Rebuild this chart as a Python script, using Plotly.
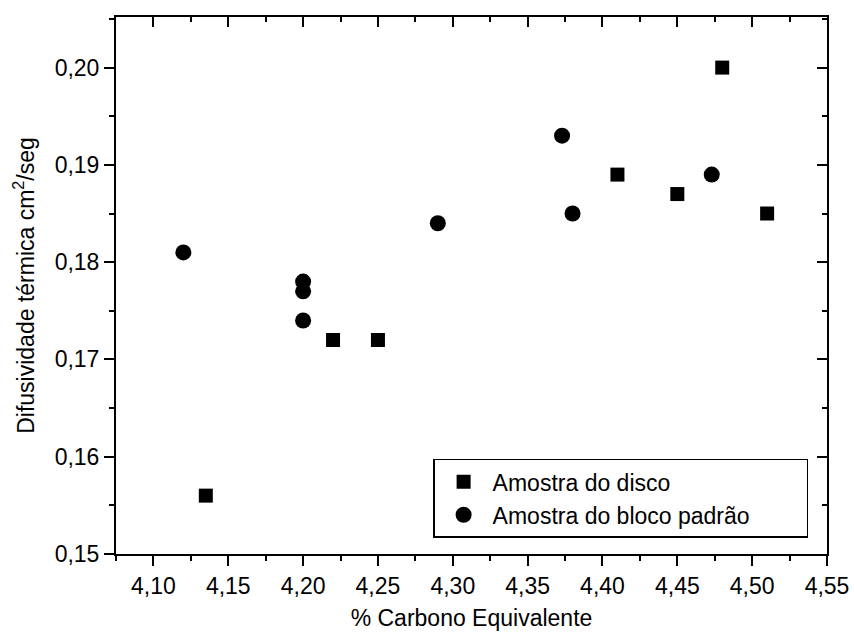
import plotly.graph_objects as go

# Data
disco_x = [4.135, 4.22, 4.25, 4.41, 4.45, 4.48, 4.51]
disco_y = [0.156, 0.172, 0.172, 0.189, 0.187, 0.200, 0.185]

bloco_x = [4.12, 4.20, 4.20, 4.20, 4.29, 4.373, 4.38, 4.473]
bloco_y = [0.181, 0.178, 0.177, 0.174, 0.184, 0.193, 0.185, 0.189]

x_range = [4.075, 4.55]
y_range = [0.15, 0.2052]

FONT = "Arial, Liberation Sans, sans-serif"
FS = 23
PAD = "\u00a0" * 8

fig = go.Figure()
fig.add_trace(go.Scatter(x=disco_x, y=disco_y, mode="markers", name="Amostra do disco" + PAD,
                         marker=dict(symbol="square", size=14, color="black")))
fig.add_trace(go.Scatter(x=bloco_x, y=bloco_y, mode="markers", name="Amostra do bloco padrão" + PAD,
                         marker=dict(symbol="circle", size=16, color="black")))
# helper trace for mirrored (top/right) axes with inward ticks
fig.add_trace(go.Scatter(x=[4.3], y=[0.17], xaxis="x2", yaxis="y2", showlegend=False,
                         hoverinfo="skip", mode="markers", marker=dict(opacity=0)))

axis_common = dict(showline=True, linecolor="black", linewidth=2, showgrid=False,
                   zeroline=False, tickcolor="black", tickwidth=2, ticklen=10, automargin=False)

fig.update_layout(
    width=854, height=634,
    margin=dict(l=116, r=27, t=17, b=80),
    paper_bgcolor="white", plot_bgcolor="white",
    separators=",.",
    font=dict(family=FONT, size=FS, color="black"),
    xaxis=dict(range=x_range, tick0=4.10, dtick=0.05, tickformat=".2f", ticks="outside",
               minor=dict(ticks="outside", ticklen=5, tickwidth=2, tickcolor="black", dtick=0.025, tick0=4.10),
               title=dict(text="% Carbono Equivalente", standoff=12, font=dict(size=FS)),
               tickfont=dict(size=FS), **axis_common),
    yaxis=dict(range=y_range, tick0=0.15, dtick=0.01, tickformat=".2f", ticks="outside",
               minor=dict(ticks="outside", ticklen=5, tickwidth=2, tickcolor="black", dtick=0.005, tick0=0.15),
               title=dict(text="Difusividade térmica cm<sup>2</sup>/seg", standoff=14, font=dict(size=FS)),
               tickfont=dict(size=FS), **axis_common),
    xaxis2=dict(range=x_range, overlaying="x", side="top", tick0=4.10, dtick=0.05, ticks="inside",
                showticklabels=False,
                minor=dict(ticks="inside", ticklen=5, tickwidth=2, tickcolor="black", dtick=0.025, tick0=4.10),
                **axis_common),
    yaxis2=dict(range=y_range, overlaying="y", side="right", tick0=0.15, dtick=0.01, ticks="inside",
                showticklabels=False,
                minor=dict(ticks="inside", ticklen=5, tickwidth=2, tickcolor="black", dtick=0.005, tick0=0.15),
                **axis_common),
    legend=dict(x=0.446, y=0.03, xanchor="left", yanchor="bottom",
                bordercolor="black", borderwidth=1.5, bgcolor="white",
                font=dict(size=FS), itemwidth=48, tracegroupgap=0),
    showlegend=True,
)

fig.write_html("out.html", config={"displayModeBar": False},
               post_script="document.body.style.margin='0';document.body.style.overflow='hidden';")
